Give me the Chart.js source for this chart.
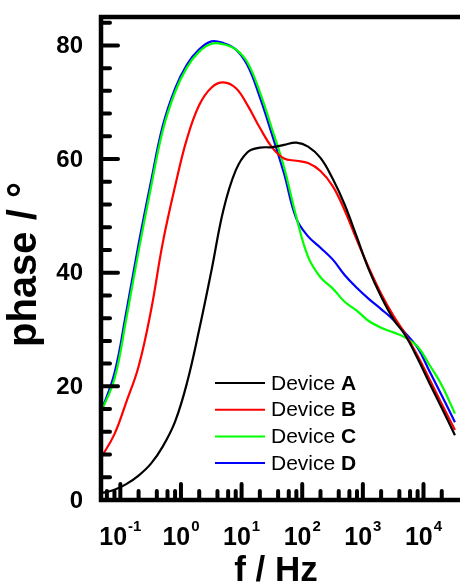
<!DOCTYPE html>
<html>
<head>
<meta charset="utf-8">
<script src="https://cdn.jsdelivr.net/npm/chart.js@4.4.0/dist/chart.umd.min.js"></script>
<style>
  html, body { margin: 0; padding: 0; background: #fff; }
</style>
</head>
<body>
<canvas id="chart" width="460" height="585"></canvas>
<script>
// === Data ===
const freq = [0.048, 0.08, 0.125, 0.2, 0.32, 0.5, 0.8, 1.25, 2, 3.2, 5, 8, 12.5, 20, 32,
  50, 80, 125, 200, 320, 500, 800, 1250, 2000, 3200, 5000, 8000, 12500, 20000, 33000];

const deviceA = [1.2, 1.8, 2.8, 4.3, 6.4, 9.4, 13.8, 20.5, 30.0, 40.5, 51.0, 58.0, 61.2, 62.0, 62.1,
  62.5, 62.9, 62.2, 60.2, 56.5, 52.0, 46.2, 40.6, 35.8, 31.8, 29.0, 24.9, 20.6, 16.2, 11.4];
const deviceB = [7.4, 11.6, 17.2, 23.5, 33.3, 45.2, 55.2, 63.5, 69.5, 72.6, 73.5, 72.5, 69.5, 65.5, 62.0,
  60.1, 59.7, 59.3, 57.9, 55.2, 51.0, 45.7, 40.9, 36.3, 32.4, 29.2, 25.4, 21.3, 16.9, 12.3];
const deviceC = [15.5, 21.3, 31.8, 43.8, 55.0, 65.0, 71.8, 76.1, 78.9, 80.3, 80.2, 79.3, 77.0, 71.8, 65.2,
  58.6, 49.8, 42.8, 39.2, 37.2, 34.9, 33.3, 31.5, 30.3, 29.5, 28.6, 27.0, 23.8, 20.2, 15.2];
const deviceD = [15.5, 22.3, 33.0, 45.0, 56.0, 65.8, 72.4, 76.6, 79.3, 80.7, 80.4, 79.3, 76.5, 70.9, 64.2,
  57.5, 49.5, 46.4, 44.4, 42.3, 39.6, 37.3, 35.4, 33.6, 31.7, 29.4, 26.8, 22.7, 18.4, 13.7];

const deviceNames = ["A", "B", "C", "D"];
const deviceColors = ["#000000", "#ff0000", "#00ff00", "#0000ff"];
const yTickLabels = [0, 20, 40, 60, 80];
const xTickExponents = [-1, 0, 1, 2, 3, 4];

const FONT = "'Liberation Sans', Arial, sans-serif";

function toPoints(values) {
  return values.map((v, i) => ({ x: freq[i], y: v }));
}

// === Frame, ticks, labels, legend ===
const decorPlugin = {
  id: "decor",
  afterDraw(chart) {
    const { ctx, chartArea: a, scales: { x, y } } = chart;
    ctx.save();
    ctx.strokeStyle = "#000";
    ctx.fillStyle = "#000";

    // frame (top, left, bottom)
    ctx.lineWidth = 4.5;
    ctx.lineJoin = "miter";
    ctx.beginPath();
    ctx.moveTo(a.right + 5, a.top);
    ctx.lineTo(a.left, a.top);
    ctx.lineTo(a.left, a.bottom);
    ctx.lineTo(a.right + 5, a.bottom);
    ctx.stroke();

    // y ticks, inward
    ctx.lineCap = "round";
    ctx.lineWidth = 4;
    for (let v = 4; v <= 84; v += 4) {
      const py = y.getPixelForValue(v);
      const len = v % 20 === 0 ? 17 : 9;
      ctx.beginPath();
      ctx.moveTo(a.left, py);
      ctx.lineTo(a.left + len, py);
      ctx.stroke();
    }

    // x ticks, inward (minor at 2,4,6,8)
    for (let e = -2; e <= 4; e++) {
      [1, 2, 4, 6, 8].forEach((m) => {
        const f = m * Math.pow(10, e);
        if (f <= x.min || f >= x.max) return;
        const px = x.getPixelForValue(f);
        const len = m === 1 ? 16 : 9;
        ctx.beginPath();
        ctx.moveTo(px, a.bottom);
        ctx.lineTo(px, a.bottom - len);
        ctx.stroke();
      });
    }

    // y tick labels
    ctx.font = "bold 24px " + FONT;
    ctx.textAlign = "right";
    ctx.textBaseline = "middle";
    yTickLabels.forEach((v) => {
      ctx.fillText(String(v), 83, y.getPixelForValue(v) + 1);
    });

    // x tick labels 10^n
    ctx.textBaseline = "alphabetic";
    ctx.textAlign = "left";
    xTickExponents.forEach((e) => {
      const px = x.getPixelForValue(Math.pow(10, e));
      ctx.font = "bold 25px " + FONT;
      const wBase = ctx.measureText("10").width;
      ctx.font = "bold 15px " + FONT;
      const wExp = ctx.measureText(String(e)).width;
      const start = px - (wBase + wExp + 1) / 2;
      ctx.font = "bold 25px " + FONT;
      ctx.fillText("10", start, 545);
      ctx.font = "bold 15px " + FONT;
      ctx.fillText(String(e), start + wBase + 1, 531);
    });

    // axis titles
    ctx.font = "bold 35px " + FONT;
    ctx.textAlign = "center";
    ctx.fillText("f / Hz", 276, 581);

    ctx.save();
    ctx.translate(36, 347);
    ctx.rotate(-Math.PI / 2);
    ctx.font = "bold 40px " + FONT;
    ctx.textAlign = "left";
    ctx.textBaseline = "alphabetic";
    ctx.fillText("phase / °", 0, 0);
    ctx.restore();

    // legend
    ctx.textAlign = "left";
    ctx.textBaseline = "middle";
    deviceNames.forEach((name, i) => {
      const ly = 383 + i * 26.7;
      ctx.strokeStyle = deviceColors[i];
      ctx.lineWidth = 2;
      ctx.lineCap = "butt";
      ctx.beginPath();
      ctx.moveTo(215, ly);
      ctx.lineTo(265, ly);
      ctx.stroke();
      ctx.fillStyle = "#000";
      ctx.font = "21px " + FONT;
      ctx.fillText("Device ", 271, ly + 1);
      const w = ctx.measureText("Device ").width;
      ctx.font = "bold 21px " + FONT;
      ctx.fillText(name, 271 + w, ly + 1);
    });

    ctx.restore();
  },
};

const series = [deviceA, deviceB, deviceC, deviceD];

new Chart(document.getElementById("chart"), {
  type: "line",
  data: {
    datasets: series.map((vals, i) => ({
      label: "Device " + deviceNames[i],
      data: toPoints(vals),
      borderColor: deviceColors[i],
      borderWidth: 2.2,
      pointRadius: 0,
      fill: false,
      tension: 0.4,
    })),
  },
  options: {
    responsive: false,
    animation: false,
    layout: { padding: { left: 101, right: 0, top: 17, bottom: 85 } },
    plugins: { legend: { display: false }, tooltip: { enabled: false } },
    scales: {
      x: { type: "logarithmic", min: 0.048, max: 40000, display: false },
      y: { type: "linear", min: 0, max: 85, display: false },
    },
  },
  plugins: [decorPlugin],
});
</script>
</body>
</html>
